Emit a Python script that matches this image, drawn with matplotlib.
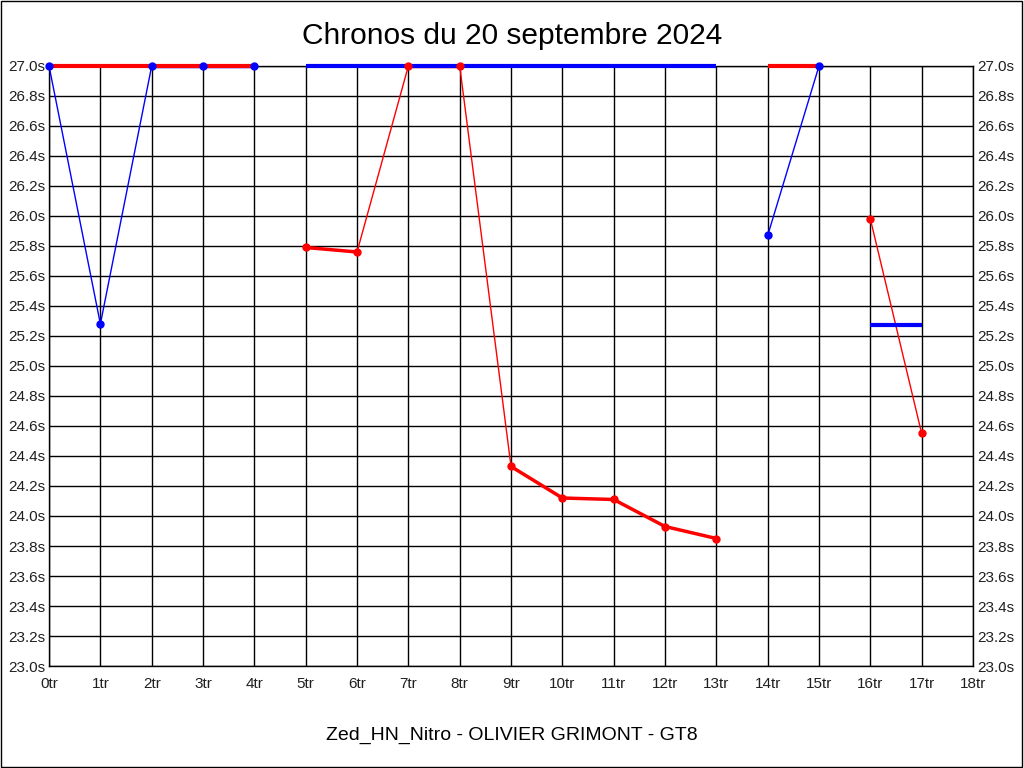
import matplotlib
matplotlib.use("Agg")
import matplotlib.pyplot as plt
import matplotlib.ticker as mtick
import numpy as np

RED = "#FF0000"
BLUE = "#0000FF"

plt.rcParams.update({
    "font.family": ["Liberation Sans", "DejaVu Sans"],
    "font.size": 9,
})

# lap times per stint (clipped at 27.0 s by the chart)
stint_laps = [
    [0, 1, 2, 3, 4],
    [5, 6, 7, 8, 9, 10, 11, 12, 13],
    [14, 15],
    [16, 17],
]
stint_times = [
    [27.0, 25.28, 27.0, 27.0, 27.0],
    [25.79, 25.76, 27.0, 27.0, 24.33, 24.12, 24.11, 23.93, 23.85],
    [25.87, 27.0],
    [25.98, 24.55],
]
stint_avg = [27.0, 27.0, 27.0, 25.27]
stint_colors = [BLUE, RED, BLUE, RED]
avg_colors = [RED, BLUE, RED, BLUE]

x_ticks = list(range(0, 19))
y_ticks = [23.0 + 0.2 * i for i in range(21)]

fig = plt.figure(figsize=(10.24, 7.68), dpi=100)
ax = fig.add_axes([0.0479, 0.1328, 0.9023, 0.7813])

for laps, times, avg, col, acol in zip(stint_laps, stint_times, stint_avg,
                                       stint_colors, avg_colors):
    # lap-to-lap segments: steep ones come out thin in the original
    for i in range(len(laps) - 1):
        dy = abs(times[i + 1] - times[i])
        lw = 1.0 if dy > 0.5 else 2.5
        ax.plot(laps[i:i + 2], times[i:i + 2], color=col, lw=lw, zorder=3,
                clip_on=False)
    # stint average line, above the segments but below the markers
    ax.plot([laps[0], laps[-1]], [avg, avg], color=acol, lw=3,
            solid_capstyle="butt", zorder=4, clip_on=False)
    ax.plot(laps, times, ls="none", marker="o", ms=5, color=col, zorder=5,
            clip_on=False)

ax.set_xlim(0, 18)
ax.set_ylim(23.0, 27.0)
ax.set_xticks(x_ticks)
ax.set_yticks(y_ticks)
ax.xaxis.set_major_formatter(mtick.FuncFormatter(lambda v, _: f"{int(round(v))}tr"))
ax.yaxis.set_major_formatter(mtick.FuncFormatter(lambda v, _: f"{v:.1f}s"))
ax.tick_params(axis="both", length=0, labelsize=11, colors="#202020")
ax.tick_params(axis="y", labelright=True, pad=3)
ax.tick_params(axis="x", pad=8)
ax.grid(True, color="black", lw=1)
ax.set_axisbelow(True)
for s in ax.spines.values():
    s.set_color("black")
    s.set_linewidth(1)

fig.text(0.5, 0.953, "Chronos du 20 septembre 2024", ha="center", va="center",
         fontsize=21.5, color="black")
fig.text(0.5, 0.043, "Zed_HN_Nitro - OLIVIER GRIMONT - GT8", ha="center",
         va="center", fontsize=14, color="black")

# thin frame round the whole picture
fig.patches.append(plt.Rectangle((0.0005, 0.0007), 0.998, 0.998,
                                 transform=fig.transFigure, fill=False,
                                 edgecolor="black", lw=1))

fig.savefig("out.png", dpi=100, facecolor="white")
